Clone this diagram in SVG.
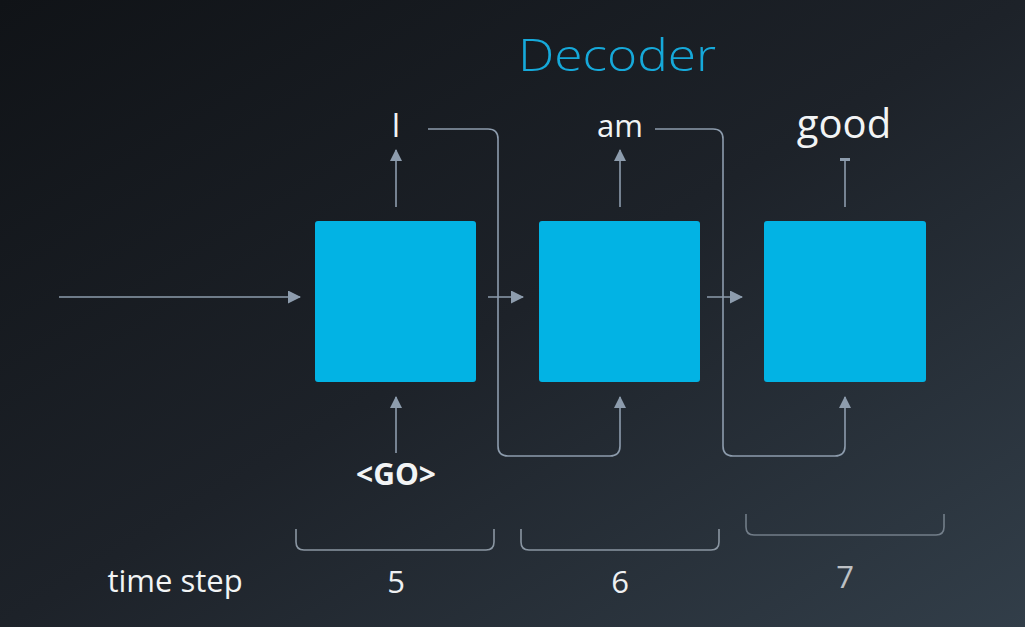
<svg xmlns="http://www.w3.org/2000/svg" width="1025" height="627" viewBox="0 0 1025 627">
  <defs>
    <linearGradient id="bg" x1="0" y1="0" x2="1" y2="1">
      <stop offset="0" stop-color="#101317"/>
      <stop offset="0.5" stop-color="#1d2229"/>
      <stop offset="1" stop-color="#323e49"/>
    </linearGradient>
    <marker id="head" viewBox="0 0 12 12" refX="11" refY="6" markerWidth="12" markerHeight="12" markerUnits="userSpaceOnUse" orient="auto">
      <path d="M0,0 L12,6 L0,12 Z" fill="#8d9cad"/>
    </marker>
    <marker id="headBig" viewBox="0 0 13 13" refX="12" refY="6.5" markerWidth="13" markerHeight="13" markerUnits="userSpaceOnUse" orient="auto">
      <path d="M0,0 L13,6.5 L0,13 Z" fill="#8d9cad"/>
    </marker>
    <style>
      .cell { fill: #02b3e4; }
      .wire { fill: none; stroke: #8d9cad; stroke-width: 1.6; }
      .bracket { fill: none; stroke: #8a96a2; stroke-width: 1.6; }
      .word { font-family: "Open Sans", "Noto Sans", sans-serif; fill: #f2f4f5; text-anchor: middle; }
      .num { font-family: "Open Sans", "Noto Sans", sans-serif; fill: #eef0f2; font-size: 31px; text-anchor: middle; }
    </style>
  </defs>

  <rect width="1025" height="627" fill="url(#bg)"/>

  <text x="617" y="71" font-family="'Open Sans', 'Noto Sans', sans-serif" font-weight="300" font-size="45" fill="#16a9da" text-anchor="middle" textLength="198" lengthAdjust="spacingAndGlyphs">Decoder</text>

  <!-- RNN cells -->
  <g id="cell-1"><rect class="cell" x="315" y="221" width="161" height="161" rx="3"/></g>
  <g id="cell-2"><rect class="cell" x="539" y="221" width="161" height="161" rx="3"/></g>
  <g id="cell-3"><rect class="cell" x="764" y="221" width="162" height="161" rx="3"/></g>

  <!-- outputs and input -->
  <g id="out-I"><text class="word" x="396" y="137" font-size="32">I</text></g>
  <g id="out-am"><text class="word" x="620" y="137" font-size="31">am</text></g>
  <g id="out-good"><text class="word" x="844" y="138" font-size="40">good</text></g>
  <g id="in-go"><text class="word" x="396" y="485" font-size="30" font-weight="700">&lt;GO&gt;</text></g>

  <g id="connectors">
    <!-- hidden state in -->
    <line class="wire" x1="59" y1="297" x2="300" y2="297" marker-end="url(#headBig)"/>
    <!-- state between cells -->
    <line class="wire" x1="488" y1="297" x2="523" y2="297" marker-end="url(#headBig)"/>
    <line class="wire" x1="707" y1="297" x2="742" y2="297" marker-end="url(#headBig)"/>
    <!-- cell outputs -->
    <line class="wire" x1="396" y1="207" x2="396" y2="150" marker-end="url(#head)"/>
    <line class="wire" x1="620" y1="207" x2="620" y2="150" marker-end="url(#head)"/>
    <line class="wire" x1="845" y1="207" x2="845" y2="160"/>
    <rect x="840" y="158" width="10" height="3" fill="#8d9cad"/>
    <!-- input to first cell -->
    <line class="wire" x1="396" y1="453" x2="396" y2="397" marker-end="url(#head)"/>
    <!-- feedback of previous output -->
    <path class="wire" d="M428,129 H488 Q498,129 498,139 V446 Q498,456 508,456 H610 Q620,456 620,446 V397" marker-end="url(#head)"/>
    <path class="wire" d="M655,129 H713 Q723,129 723,139 V446 Q723,456 733,456 H835 Q845,456 845,446 V397" marker-end="url(#head)"/>
  </g>

  <!-- time step brackets -->
  <g id="step-5">
    <path class="bracket" d="M296,529 V542 Q296,550 304,550 H486 Q494,550 494,542 V529"/>
    <text class="num" x="396" y="593">5</text>
  </g>
  <g id="step-6">
    <path class="bracket" d="M521,529 V542 Q521,550 529,550 H711 Q719,550 719,542 V529"/>
    <text class="num" x="620" y="593">6</text>
  </g>
  <g id="step-7" opacity="0.75">
    <path class="bracket" d="M746,514 V527 Q746,535 754,535 H936 Q944,535 944,527 V514" stroke="#6f7b86"/>
    <text class="num" x="845" y="588" fill="#8e98a2">7</text>
  </g>
  <text class="word" x="175" y="592" font-size="31">time step</text>
</svg>
